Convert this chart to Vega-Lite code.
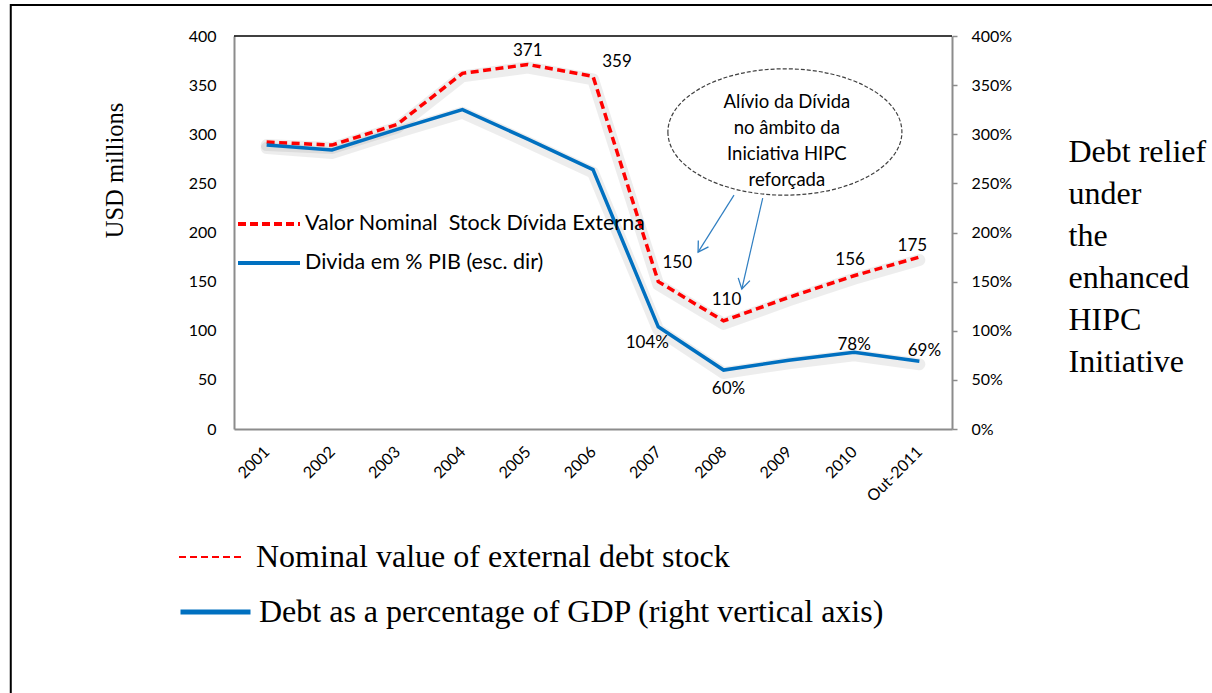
{
  "$schema": "https://vega.github.io/schema/vega-lite/v6.json",
  "width": 718,
  "height": 393,
  "autosize": "none",
  "padding": {"left": 234, "top": 36, "right": 260, "bottom": 264},
  "background": "white",
  "config": {"view": {"stroke": null}, "font": "Lato", "axis": {"grid": false}},
  "datasets": {
    "debt": [
      {"idx": 0, "ano": "2001", "usd": 292, "pct": 289},
      {"idx": 1, "ano": "2002", "usd": 289, "pct": 284},
      {"idx": 2, "ano": "2003", "usd": 310, "pct": 305},
      {"idx": 3, "ano": "2004", "usd": 362, "pct": 325},
      {"idx": 4, "ano": "2005", "usd": 371, "pct": 295},
      {"idx": 5, "ano": "2006", "usd": 359, "pct": 264},
      {"idx": 6, "ano": "2007", "usd": 150, "pct": 104},
      {"idx": 7, "ano": "2008", "usd": 110, "pct": 60},
      {"idx": 8, "ano": "2009", "usd": 134, "pct": 70},
      {"idx": 9, "ano": "2010", "usd": 156, "pct": 78},
      {"idx": 10, "ano": "Out-2011", "usd": 175, "pct": 69}
    ]
  },
  "data": {"name": "debt"},
  "resolve": {"axis": {"y": "independent"}},
  "layer": [
    {
      "data": {"values": [{"x": -3.92, "x2": 16, "y": 431.6, "y2": -300}]},
      "mark": {"type": "rect", "fillOpacity": 0, "stroke": "#000", "strokeWidth": 2},
      "encoding": {
        "x": {"field": "x", "type": "quantitative", "scale": {"domain": [-0.5, 10.5], "nice": false}},
        "x2": {"field": "x2"},
        "y": {"field": "y", "type": "quantitative", "scale": {"domain": [0, 400], "nice": false}, "axis": null},
        "y2": {"field": "y2"}
      }
    },
    {
      "data": {"values": [{}]},
      "mark": {"type": "rule", "color": "#000", "strokeWidth": 1.5},
      "encoding": {
        "y": {"datum": 400, "type": "quantitative", "scale": {"domain": [0, 400], "nice": false}, "axis": null}
      }
    },
    {
      "mark": {"type": "line", "color": "#000", "opacity": 0.07, "strokeWidth": 12, "yOffset": 3, "strokeJoin": "round", "strokeCap": "round"},
      "encoding": {
        "x": {"field": "idx", "type": "quantitative", "scale": {"domain": [-0.5, 10.5], "nice": false}},
        "y": {"field": "usd", "type": "quantitative", "scale": {"domain": [0, 400], "nice": false}, "axis": null}
      }
    },
    {
      "mark": {"type": "line", "color": "#000", "opacity": 0.07, "strokeWidth": 12, "yOffset": 3, "strokeJoin": "round", "strokeCap": "round"},
      "encoding": {
        "x": {"field": "idx", "type": "quantitative", "scale": {"domain": [-0.5, 10.5], "nice": false}},
        "y": {"field": "pct", "type": "quantitative", "scale": {"domain": [0, 400], "nice": false}, "axis": null}
      }
    },
    {
      "mark": {"type": "line", "color": "#FF0000", "strokeWidth": 3.5, "strokeDash": [8, 4.5]},
      "encoding": {
        "x": {
          "field": "idx", "type": "quantitative",
          "scale": {"domain": [-0.5, 10.5], "nice": false},
          "axis": {
            "values": [0, 1, 2, 3, 4, 5, 6, 7, 8, 9, 10],
            "labelExpr": "['2001','2002','2003','2004','2005','2006','2007','2008','2009','2010','Out-2011'][datum.value]",
            "title": null, "ticks": false, "grid": false,
            "domainColor": "#8c8c8c", "domainWidth": 2,
            "labelAngle": -45, "labelAlign": "right", "labelBaseline": "middle",
            "labelPadding": 20, "labelFont": "Lato", "labelFontSize": 16, "labelColor": "#000",
            "labelOverlap": false, "labelFlush": false
          }
        },
        "y": {
          "field": "usd", "type": "quantitative",
          "scale": {"domain": [0, 400], "nice": false},
          "axis": {
            "orient": "left",
            "values": [0, 50, 100, 150, 200, 250, 300, 350, 400],
            "title": "USD millions", "titleFont": "Liberation Serif", "titleFontSize": 24.5,
            "titleFontWeight": "normal", "titleColor": "#000",
            "titleX": -119, "titleY": 134, "titleAngle": -90, "titleAlign": "center", "titleBaseline": "middle",
            "ticks": false, "grid": false, "domainColor": "#8c8c8c", "domainWidth": 2,
            "labelFont": "Lato", "labelFontSize": 16, "labelColor": "#000", "labelPadding": 18,
            "labelFlush": false, "labelOverlap": false
          }
        }
      }
    },
    {
      "mark": {"type": "line", "color": "#0070C0", "strokeWidth": 3.5},
      "encoding": {
        "x": {"field": "idx", "type": "quantitative", "scale": {"domain": [-0.5, 10.5], "nice": false}},
        "y": {
          "field": "pct", "type": "quantitative",
          "scale": {"domain": [0, 400], "nice": false},
          "axis": {
            "orient": "right",
            "values": [0, 50, 100, 150, 200, 250, 300, 350, 400],
            "labelExpr": "datum.value + '%'",
            "ticks": true, "tickSize": 5, "tickColor": "#8c8c8c", "tickWidth": 1.5,
            "domainColor": "#8c8c8c", "domainWidth": 2, "grid": false,
            "labelFont": "Lato", "labelFontSize": 16, "labelColor": "#000", "labelPadding": 14,
            "labelFlush": false, "labelOverlap": false,
            "title": ["Debt relief", "under", "the", "enhanced", "HIPC", "Initiative"],
            "titleFont": "Liberation Serif", "titleFontSize": 32, "titleFontWeight": "normal", "titleColor": "#000",
            "titleAngle": 0, "titleAlign": "left", "titleBaseline": "alphabetic",
            "titleX": 116, "titleY": 125, "titleLineHeight": 42
          }
        }
      }
    },
    {
      "transform": [{"filter": "datum.idx === 4"}],
      "mark": {"type": "text", "font": "Lato", "fontSize": 17, "color": "#000", "dx": 0, "dy": -13},
      "encoding": {
        "x": {"field": "idx", "type": "quantitative", "scale": {"domain": [-0.5, 10.5], "nice": false}},
        "y": {"field": "usd", "type": "quantitative", "scale": {"domain": [0, 400], "nice": false}, "axis": null},
        "text": {"field": "usd"}
      }
    },
    {
      "transform": [{"filter": "datum.idx === 5"}],
      "mark": {"type": "text", "font": "Lato", "fontSize": 17, "color": "#000", "dx": 24, "dy": -14},
      "encoding": {
        "x": {"field": "idx", "type": "quantitative", "scale": {"domain": [-0.5, 10.5], "nice": false}},
        "y": {"field": "usd", "type": "quantitative", "scale": {"domain": [0, 400], "nice": false}, "axis": null},
        "text": {"field": "usd"}
      }
    },
    {
      "transform": [{"filter": "datum.idx === 6"}],
      "mark": {"type": "text", "font": "Lato", "fontSize": 17, "color": "#000", "dx": 19, "dy": -19},
      "encoding": {
        "x": {"field": "idx", "type": "quantitative", "scale": {"domain": [-0.5, 10.5], "nice": false}},
        "y": {"field": "usd", "type": "quantitative", "scale": {"domain": [0, 400], "nice": false}, "axis": null},
        "text": {"field": "usd"}
      }
    },
    {
      "transform": [{"filter": "datum.idx === 7"}],
      "mark": {"type": "text", "font": "Lato", "fontSize": 17, "color": "#000", "dx": 3, "dy": -21},
      "encoding": {
        "x": {"field": "idx", "type": "quantitative", "scale": {"domain": [-0.5, 10.5], "nice": false}},
        "y": {"field": "usd", "type": "quantitative", "scale": {"domain": [0, 400], "nice": false}, "axis": null},
        "text": {"field": "usd"}
      }
    },
    {
      "transform": [{"filter": "datum.idx === 9"}],
      "mark": {"type": "text", "font": "Lato", "fontSize": 17, "color": "#000", "dx": -4, "dy": -16},
      "encoding": {
        "x": {"field": "idx", "type": "quantitative", "scale": {"domain": [-0.5, 10.5], "nice": false}},
        "y": {"field": "usd", "type": "quantitative", "scale": {"domain": [0, 400], "nice": false}, "axis": null},
        "text": {"field": "usd"}
      }
    },
    {
      "transform": [{"filter": "datum.idx === 10"}],
      "mark": {"type": "text", "font": "Lato", "fontSize": 17, "color": "#000", "dx": -7, "dy": -11},
      "encoding": {
        "x": {"field": "idx", "type": "quantitative", "scale": {"domain": [-0.5, 10.5], "nice": false}},
        "y": {"field": "usd", "type": "quantitative", "scale": {"domain": [0, 400], "nice": false}, "axis": null},
        "text": {"field": "usd"}
      }
    },
    {
      "transform": [{"filter": "datum.idx === 6"}, {"calculate": "datum.pct + '%'", "as": "lbl"}],
      "mark": {"type": "text", "font": "Lato", "fontSize": 17, "color": "#000", "dx": -11, "dy": 16},
      "encoding": {
        "x": {"field": "idx", "type": "quantitative", "scale": {"domain": [-0.5, 10.5], "nice": false}},
        "y": {"field": "pct", "type": "quantitative", "scale": {"domain": [0, 400], "nice": false}, "axis": null},
        "text": {"field": "lbl"}
      }
    },
    {
      "transform": [{"filter": "datum.idx === 7"}, {"calculate": "datum.pct + '%'", "as": "lbl"}],
      "mark": {"type": "text", "font": "Lato", "fontSize": 17, "color": "#000", "dx": 5, "dy": 19},
      "encoding": {
        "x": {"field": "idx", "type": "quantitative", "scale": {"domain": [-0.5, 10.5], "nice": false}},
        "y": {"field": "pct", "type": "quantitative", "scale": {"domain": [0, 400], "nice": false}, "axis": null},
        "text": {"field": "lbl"}
      }
    },
    {
      "transform": [{"filter": "datum.idx === 9"}, {"calculate": "datum.pct + '%'", "as": "lbl"}],
      "mark": {"type": "text", "font": "Lato", "fontSize": 17, "color": "#000", "dx": 0, "dy": -7},
      "encoding": {
        "x": {"field": "idx", "type": "quantitative", "scale": {"domain": [-0.5, 10.5], "nice": false}},
        "y": {"field": "pct", "type": "quantitative", "scale": {"domain": [0, 400], "nice": false}, "axis": null},
        "text": {"field": "lbl"}
      }
    },
    {
      "transform": [{"filter": "datum.idx === 10"}, {"calculate": "datum.pct + '%'", "as": "lbl"}],
      "mark": {"type": "text", "font": "Lato", "fontSize": 17, "color": "#000", "dx": 5, "dy": -10},
      "encoding": {
        "x": {"field": "idx", "type": "quantitative", "scale": {"domain": [-0.5, 10.5], "nice": false}},
        "y": {"field": "pct", "type": "quantitative", "scale": {"domain": [0, 400], "nice": false}, "axis": null},
        "text": {"field": "lbl"}
      }
    },
    {
      "data": {"values": [{"x": 7.94, "y": 302.3}]},
      "mark": {"type": "point", "shape": "M -1 0 A 1 0.54 0 1 0 1 0 A 1 0.54 0 1 0 -1 0 Z", "size": 54756, "filled": false, "stroke": "#404040", "strokeWidth": 1.2, "strokeDash": [4, 2], "opacity": 1},
      "encoding": {
        "x": {"field": "x", "type": "quantitative", "scale": {"domain": [-0.5, 10.5], "nice": false}},
        "y": {"field": "y", "type": "quantitative", "scale": {"domain": [0, 400], "nice": false}, "axis": null}
      }
    },
    {
      "data": {"values": [{"x": 7.97, "y": 332.5, "t": "Alívio da Dívida\nno âmbito da\nIniciativa HIPC\nreforçada"}]},
      "mark": {"type": "text", "font": "Lato", "fontSize": 18.5, "color": "#000", "lineBreak": "\n", "lineHeight": 26, "baseline": "middle", "align": "center"},
      "encoding": {
        "x": {"field": "x", "type": "quantitative", "scale": {"domain": [-0.5, 10.5], "nice": false}},
        "y": {"field": "y", "type": "quantitative", "scale": {"domain": [0, 400], "nice": false}, "axis": null},
        "text": {"field": "t"}
      }
    },
    {
      "data": {"values": [{"x": 7.16, "y": 238, "x2": 6.61, "y2": 180}, {"x": 7.6, "y": 235, "x2": 7.28, "y2": 142.5}]},
      "mark": {"type": "rule", "color": "#2F7EC1", "strokeWidth": 1.2},
      "encoding": {
        "x": {"field": "x", "type": "quantitative", "scale": {"domain": [-0.5, 10.5], "nice": false}},
        "y": {"field": "y", "type": "quantitative", "scale": {"domain": [0, 400], "nice": false}, "axis": null},
        "x2": {"field": "x2"},
        "y2": {"field": "y2"}
      }
    },
    {
      "data": {"values": [{"x": 6.61, "y": 180}]},
      "mark": {"type": "point", "shape": "M -0.6 -1 L 0 0 L 0.6 -1", "size": 400, "filled": false, "stroke": "#2F7EC1", "strokeWidth": 1.3, "angle": 32, "opacity": 1},
      "encoding": {
        "x": {"field": "x", "type": "quantitative", "scale": {"domain": [-0.5, 10.5], "nice": false}},
        "y": {"field": "y", "type": "quantitative", "scale": {"domain": [0, 400], "nice": false}, "axis": null}
      }
    },
    {
      "data": {"values": [{"x": 7.28, "y": 142.5}]},
      "mark": {"type": "point", "shape": "M -0.6 -1 L 0 0 L 0.6 -1", "size": 400, "filled": false, "stroke": "#2F7EC1", "strokeWidth": 1.3, "angle": 13, "opacity": 1},
      "encoding": {
        "x": {"field": "x", "type": "quantitative", "scale": {"domain": [-0.5, 10.5], "nice": false}},
        "y": {"field": "y", "type": "quantitative", "scale": {"domain": [0, 400], "nice": false}, "axis": null}
      }
    },
    {
      "data": {"values": [{}]},
      "mark": {"type": "line", "color": "#FF0000", "strokeWidth": 4, "strokeDash": [8, 4]},
      "encoding": {
        "strokeDash": {
          "datum": "Valor Nominal\u00a0 Stock Dívida Externa",
          "scale": {"domain": ["Valor Nominal\u00a0 Stock Dívida Externa"], "range": [[8, 4]]},
          "legend": {
            "orient": "none", "legendX": 2, "legendY": 178, "title": null,
            "symbolType": "stroke", "symbolSize": 3844, "symbolStrokeWidth": 4, "symbolStrokeColor": "#FF0000", "symbolDash": [8, 4],
            "labelFont": "Lato", "labelFontSize": 21.5, "labelColor": "#000", "labelOffset": 3,
            "labelLimit": 800, "clipHeight": 20, "padding": 0
          }
        }
      }
    },
    {
      "data": {"values": [{}]},
      "mark": {"type": "line", "color": "#0070C0", "strokeWidth": 4},
      "encoding": {
        "strokeWidth": {
          "datum": "Divida em % PIB (esc. dir)",
          "type": "nominal",
          "scale": {"domain": ["Divida em % PIB (esc. dir)"], "range": [4, 4]},
          "legend": {
            "orient": "none", "legendX": 2, "legendY": 217, "title": null,
            "symbolType": "stroke", "symbolSize": 3844, "symbolStrokeWidth": 4, "symbolStrokeColor": "#0070C0",
            "labelFont": "Lato", "labelFontSize": 21.5, "labelColor": "#000", "labelOffset": 3,
            "labelLimit": 800, "clipHeight": 20, "padding": 0
          }
        }
      }
    },
    {
      "data": {"values": [{}]},
      "mark": {"type": "line", "strokeWidth": 2, "strokeDash": [7, 4]},
      "encoding": {
        "color": {
          "datum": "Nominal value of external debt stock",
          "scale": {"domain": ["Nominal value of external debt stock"], "range": ["#FF0000"]},
          "legend": {
            "orient": "none", "legendX": -56, "legendY": 506, "title": null,
            "symbolType": "stroke", "symbolSize": 3844, "symbolStrokeWidth": 2, "symbolDash": [7, 4],
            "labelFont": "Liberation Serif", "labelFontSize": 32, "labelColor": "#000", "labelOffset": 14,
            "labelLimit": 1000, "clipHeight": 30, "padding": 0
          }
        }
      }
    },
    {
      "data": {"values": [{}]},
      "mark": {"type": "line", "color": "#0070C0", "strokeWidth": 5},
      "encoding": {
        "opacity": {
          "datum": "Debt as a percentage of GDP (right vertical axis)",
          "type": "nominal",
          "scale": {"domain": ["Debt as a percentage of GDP (right vertical axis)"], "range": [1, 1]},
          "legend": {
            "orient": "none", "legendX": -56, "legendY": 561, "title": null,
            "symbolType": "stroke", "symbolSize": 4900, "symbolStrokeWidth": 5, "symbolStrokeColor": "#0070C0",
            "labelFont": "Liberation Serif", "labelFontSize": 32, "labelColor": "#000", "labelOffset": 6,
            "labelLimit": 1000, "clipHeight": 30, "padding": 0
          }
        }
      }
    }
  ]
}
